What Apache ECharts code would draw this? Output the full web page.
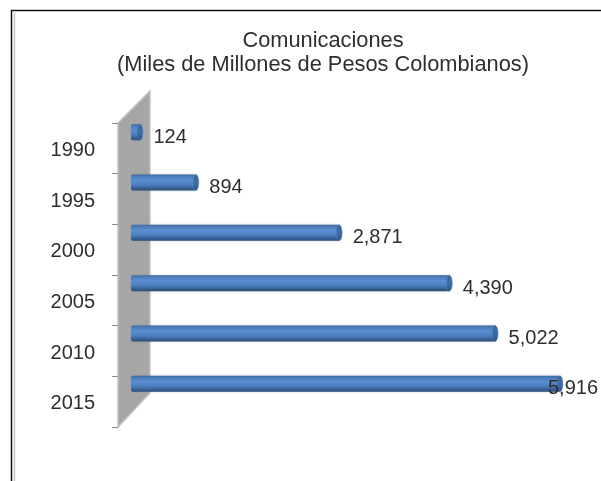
<!DOCTYPE html>
<html><head><meta charset="utf-8">
<style>html,body{margin:0;padding:0;background:#fff}#c{width:601px;height:481px}</style>
<script src="https://cdn.jsdelivr.net/npm/echarts@6/dist/echarts.min.js"></script>
</head><body><div id="c"></div>
<script>
const categories = ['1990','1995','2000','2005','2010','2015'];
const values = [124,894,2871,4390,5022,5916];
const titleLines = 'Comunicaciones\n(Miles de Millones de Pesos Colombianos)';
const FONT = '"Liberation Sans", Arial, sans-serif';
const TEXT = '#2e2e2e';
const labelMaxX = 548;

const chart = echarts.init(document.getElementById('c'), null, {renderer:'canvas'});
const barGrad = new echarts.graphic.LinearGradient(0,0,0,1,[
  {offset:0,color:'#3f6a9e'},{offset:0.12,color:'#4b7dba'},{offset:0.35,color:'#5a8ed0'},
  {offset:0.65,color:'#4c7fbe'},{offset:0.88,color:'#355c8e'},{offset:1,color:'#2f4e76'}]);
const capGrad = new echarts.graphic.LinearGradient(0,0,0,1,[
  {offset:0,color:'#3a6496'},{offset:0.5,color:'#406fa9'},{offset:1,color:'#2f5484'}]);

chart.setOption({
  animation:false,
  backgroundColor:'#fff',
  title:{text:titleLines,left:318,top:24,textAlign:'center',
    textStyle:{fontFamily:FONT,fontSize:21.8,fontWeight:'normal',color:TEXT,lineHeight:24}},
  graphic:[
    {type:'polygon',z:0,shape:{points:[[118,123],[150,91],[150,393],[118,427]]},
      style:{fill:'#a6a6a6',stroke:'#c4c4c4',lineWidth:1.5}},
    {type:'polyline',z:0,shape:{points:[[11.5,481],[11.5,10.5],[601,10.5]]},style:{fill:null,stroke:'#111',lineWidth:1.5}},
    {type:'polyline',z:0,shape:{points:[[14.5,481],[14.5,12.5]]},style:{fill:null,stroke:'#c8c8c8',lineWidth:1.5}}
  ],
  grid:[
    {left:131,top:107,width:435,height:302,containLabel:false},
    {left:118,top:123,width:32,height:304,containLabel:false}
  ],
  xAxis:[
    {gridIndex:0,type:'value',min:0,max:6000,show:false},
    {gridIndex:1,type:'value',min:0,max:1,show:false}
  ],
  yAxis:[
    {gridIndex:0,type:'category',inverse:true,data:categories,show:false},
    {gridIndex:1,type:'category',inverse:true,data:categories,position:'left',
      axisLine:{show:true,lineStyle:{color:'#bdbdbd',width:1}},
      axisTick:{show:true,length:6,alignWithLabel:false,lineStyle:{color:'#8c8c8c'}},
      axisLabel:{margin:23,formatter:'{a|{value}}',
        rich:{a:{padding:[4,0,0,0],fontFamily:FONT,fontSize:20,color:TEXT}}}}
  ],
  series:[{
    type:'custom',xAxisIndex:0,yAxisIndex:0,z:5,
    data:values.map((v,i)=>[v,i]),
    encode:{x:0,y:1},
    renderItem(params,api){
      const v=api.value(0), i=api.value(1);
      const s=api.coord([0,i]), e=api.coord([v,i]);
      const h=16, capW=3, y=s[1]-h/2;
      const labelX=Math.min(e[0]+capW+10.5,labelMaxX);
      return {type:'group',children:[
        {type:'rect',shape:{x:s[0],y:y,width:e[0]-s[0],height:h,r:[2,0,0,2]},
          style:{fill:barGrad,shadowColor:'rgba(120,130,150,0.55)',shadowBlur:2}},
        {type:'ellipse',shape:{cx:e[0],cy:s[1],rx:capW,ry:h/2},style:{fill:capGrad,stroke:'#5a8ac4',lineWidth:0.5}},
        {type:'text',z2:10,style:{x:labelX,y:s[1]+5,text:Number(v).toLocaleString('en-US'),
          fontFamily:FONT,fontSize:20,fill:TEXT,verticalAlign:'middle',align:'left'}}
      ]};
    }
  }]
});
</script></body></html>
